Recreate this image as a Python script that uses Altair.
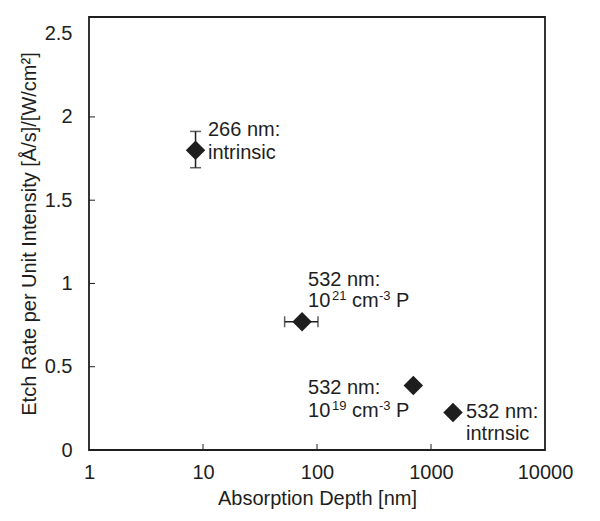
import altair as alt
import pandas as pd

# Data points
depth = [8.6, 74, 700, 1560]
rate = [1.80, 0.77, 0.387, 0.225]

# Error bars
err_v_x = [8.6]
err_v_lo = [1.695]
err_v_hi = [1.913]
err_h_y = [0.77]
err_h_lo = [52]
err_h_hi = [102]

# Plain annotation lines (anchor in data units)
lab_text = ["266 nm:", "intrinsic", "532 nm:", "532 nm:", "532 nm:", "intrnsic"]
lab_x = [11.06, 11.06, 83.4, 83.4, 2028, 2028]
lab_y = [1.923, 1.784, 1.022, 0.375, 0.231, 0.098]

# Doping lines "10^N cm^-3 P"
dop_exp = ["21", "19"]
dop_x = [83.4, 83.4]
dop_y = [0.895, 0.237]

x_ticks = [10, 100, 1000]
y_ticks = [0.5, 1, 1.5, 2]

FONT = "Liberation Sans"
INK = "#1e1e1e"
FS = 20
SFS = 13

pts = pd.DataFrame({"depth": depth, "rate": rate})
ev = pd.DataFrame({"x": err_v_x, "lo": err_v_lo, "hi": err_v_hi})
eh = pd.DataFrame({"y": err_h_y, "lo": err_h_lo, "hi": err_h_hi})
labs = pd.DataFrame({"t": lab_text, "x": lab_x, "y": lab_y})
dop = pd.DataFrame({"e": dop_exp, "x": dop_x, "y": dop_y,
                    "ten": ["10"] * 2, "cm": ["cm"] * 2, "m3": ["-3"] * 2, "p": ["P"] * 2})
xt = pd.DataFrame({"v": x_ticks})
yt = pd.DataFrame({"v": y_ticks})

xscale = alt.Scale(type="log", domain=[1, 10000])
yscale = alt.Scale(domain=[0, 2.5])

xaxis = alt.Axis(values=[1, 10, 100, 1000, 10000], labelExpr="'' + datum.value",
                 grid=False, ticks=False, domain=False, labelPadding=12,
                 labelFlush=False, labelOverlap=False,
                 titlePadding=6, title="Absorption Depth [nm]")
yaxis = alt.Axis(values=[0, 0.5, 1, 1.5, 2, 2.5], labelExpr="'' + datum.value",
                 grid=False, ticks=False, domain=False, labelPadding=17,
                 labelFlush=False, labelOverlap=False,
                 titlePadding=5, title="Etch Rate per Unit Intensity [Å/s]/[W/cm²]")

base = alt.Chart(pts).mark_point(shape="diamond", filled=True, size=380,
                                 color=INK, opacity=1).encode(
    x=alt.X("depth:Q", scale=xscale, axis=xaxis),
    y=alt.Y("rate:Q", scale=yscale, axis=yaxis),
)

ev_rule = alt.Chart(ev).mark_rule(color=INK, strokeWidth=1.5).encode(
    x="x:Q", y="lo:Q", y2="hi:Q")
ev_cap_lo = alt.Chart(ev).mark_tick(color=INK, orient="horizontal", size=11,
                                    thickness=1.5).encode(x="x:Q", y="lo:Q")
ev_cap_hi = alt.Chart(ev).mark_tick(color=INK, orient="horizontal", size=11,
                                    thickness=1.5).encode(x="x:Q", y="hi:Q")

eh_rule = alt.Chart(eh).mark_rule(color=INK, strokeWidth=1.5).encode(
    y="y:Q", x="lo:Q", x2="hi:Q")
eh_cap_lo = alt.Chart(eh).mark_tick(color=INK, orient="vertical", size=11,
                                    thickness=1.5).encode(x="lo:Q", y="y:Q")
eh_cap_hi = alt.Chart(eh).mark_tick(color=INK, orient="vertical", size=11,
                                    thickness=1.5).encode(x="hi:Q", y="y:Q")

text = alt.Chart(labs).mark_text(align="left", baseline="middle", font=FONT,
                                 fontSize=FS, color=INK).encode(
    x="x:Q", y="y:Q", text="t:N")


def piece(field, dx, size, dy=0):
    return alt.Chart(dop).mark_text(align="left", baseline="middle", font=FONT,
                                    fontSize=size, color=INK, dx=dx, dy=dy).encode(
        x="x:Q", y="y:Q", text=f"{field}:N")


t_ten = piece("ten", 0, FS)
t_exp = piece("e", 24, SFS, -5)
t_cm = piece("cm", 44, FS)
t_m3 = piece("m3", 71, SFS, -5)
t_p = piece("p", 88, FS)

xtick = alt.Chart(xt).mark_rule(color=INK, strokeWidth=1).encode(
    x="v:Q", y=alt.value(433), y2=alt.value(427))
ytick = alt.Chart(yt).mark_rule(color=INK, strokeWidth=1).encode(
    y="v:Q", x=alt.value(0), x2=alt.value(6))

chart = alt.layer(
    xtick, ytick, ev_rule, ev_cap_lo, ev_cap_hi, eh_rule, eh_cap_lo, eh_cap_hi,
    text, t_ten, t_exp, t_cm, t_m3, t_p, base
).properties(
    width=456, height=433,
    autosize=alt.AutoSizeParams(type="none"),
    padding={"left": 81, "top": 9, "right": 46, "bottom": 62},
).configure_view(
    stroke=INK, strokeWidth=1.8
).configure_axis(
    labelFont=FONT, titleFont=FONT, labelFontSize=FS, titleFontSize=FS,
    labelColor=INK, titleColor=INK, titleFontWeight="normal",
)

chart.save("out.html", embed_options={"renderer": "svg", "actions": False})
